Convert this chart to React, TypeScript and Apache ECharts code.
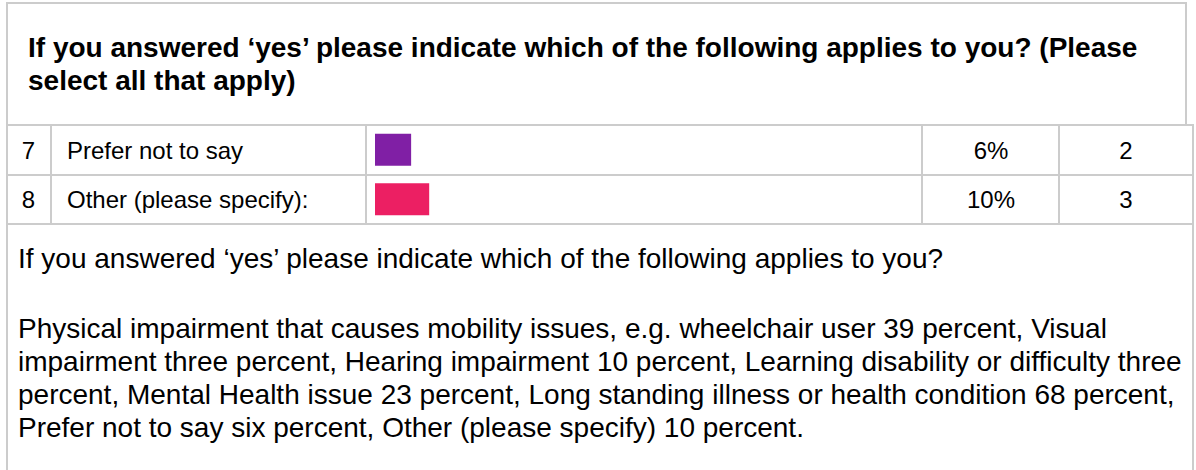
import React, { useEffect, useRef } from "react";
import * as echarts from "echarts";

const TITLE_LINES = [
  "If you answered ‘yes’ please indicate which of the following applies to you? (Please",
  "select all that apply)",
];
const ROW_NUMBERS = ["7", "8"];
const CATEGORIES = ["Prefer not to say", "Other (please specify):"];
const COUNTS = [2, 3];
const PERCENT_LABELS = ["6%", "10%"];
const TOTAL_RESPONSES = 31;
const BAR_COLORS = ["#801FA5", "#EC1F63"];
const SUMMARY_HEADING =
  "If you answered ‘yes’ please indicate which of the following applies to you?";
const SUMMARY_LINES = [
  "Physical impairment that causes mobility issues, e.g. wheelchair user 39 percent, Visual",
  "impairment three percent, Hearing impairment 10 percent, Learning disability or difficulty three",
  "percent, Mental Health issue 23 percent, Long standing illness or health condition 68 percent,",
  "Prefer not to say six percent, Other (please specify) 10 percent.",
];

const FONT = "'Liberation Sans', Arial, Helvetica, sans-serif";
const LINE = "#CCCCCC";

export default function App() {
  const ref = useRef<HTMLDivElement>(null);
  useEffect(() => {
    if (!ref.current) return;
    const chart = echarts.init(ref.current, null, { renderer: "svg" });

    const rowTop = 125;
    const rowH = 49.5;
    const line = (x1: number, y1: number, x2: number, y2: number) => ({
      type: "line",
      shape: { x1, y1, x2, y2 },
      style: { stroke: LINE, lineWidth: 2 },
      silent: true,
    });
    const text = (
      t: string,
      x: number,
      y: number,
      size: number,
      weight: string,
      align: string
    ) => ({
      type: "text",
      x,
      y,
      style: {
        text: t,
        fontFamily: FONT,
        fontSize: size,
        fontWeight: weight,
        fill: "#000000",
        align,
        verticalAlign: "middle",
      },
      silent: true,
    });

    const graphics: any[] = [];
    // header box
    graphics.push(line(6, 3, 1187, 3));
    graphics.push(line(7, 2, 7, 470));
    graphics.push(line(1186, 2, 1186, 126));
    // row lines
    [125, 175, 224].forEach((y) => graphics.push(line(6, y, 1194, y)));
    graphics.push(line(1193, 124, 1193, 470));
    [51, 366, 922, 1059].forEach((x) => graphics.push(line(x, 125, x, 224)));

    TITLE_LINES.forEach((t, i) =>
      graphics.push(text(t, 28, 47 + i * 33, 28, "bold", "left"))
    );
    CATEGORIES.forEach((c, i) => {
      const cy = rowTop + rowH * (i + 0.5) + 0.5;
      graphics.push(text(ROW_NUMBERS[i], 28.5, cy, 24, "normal", "center"));
      graphics.push(text(c, 67, cy, 24, "normal", "left"));
      graphics.push(text(PERCENT_LABELS[i], 991, cy, 24, "normal", "center"));
      graphics.push(text(String(COUNTS[i]), 1126, cy, 24, "normal", "center"));
    });
    graphics.push(text(SUMMARY_HEADING, 18, 258, 28, "normal", "left"));
    SUMMARY_LINES.forEach((t, i) =>
      graphics.push(text(t, 18, 328 + i * 33, 28, "normal", "left"))
    );

    chart.setOption({
      animation: false,
      backgroundColor: "#ffffff",
      grid: { left: 375, top: rowTop, width: 560, height: rowH * 2 },
      xAxis: { type: "value", min: 0, max: TOTAL_RESPONSES, show: false },
      yAxis: {
        type: "category",
        data: CATEGORIES,
        inverse: true,
        show: false,
      },
      series: [
        {
          type: "bar",
          barWidth: 32,
          data: COUNTS.map((v, i) => ({
            value: v,
            itemStyle: { color: BAR_COLORS[i] },
          })),
          silent: true,
        },
      ],
      graphic: graphics,
    });
    return () => chart.dispose();
  }, []);

  return (
    <div
      ref={ref}
      style={{
        position: "fixed",
        left: 0,
        top: 0,
        width: 1196,
        height: 470,
        background: "#fff",
      }}
    />
  );
}
